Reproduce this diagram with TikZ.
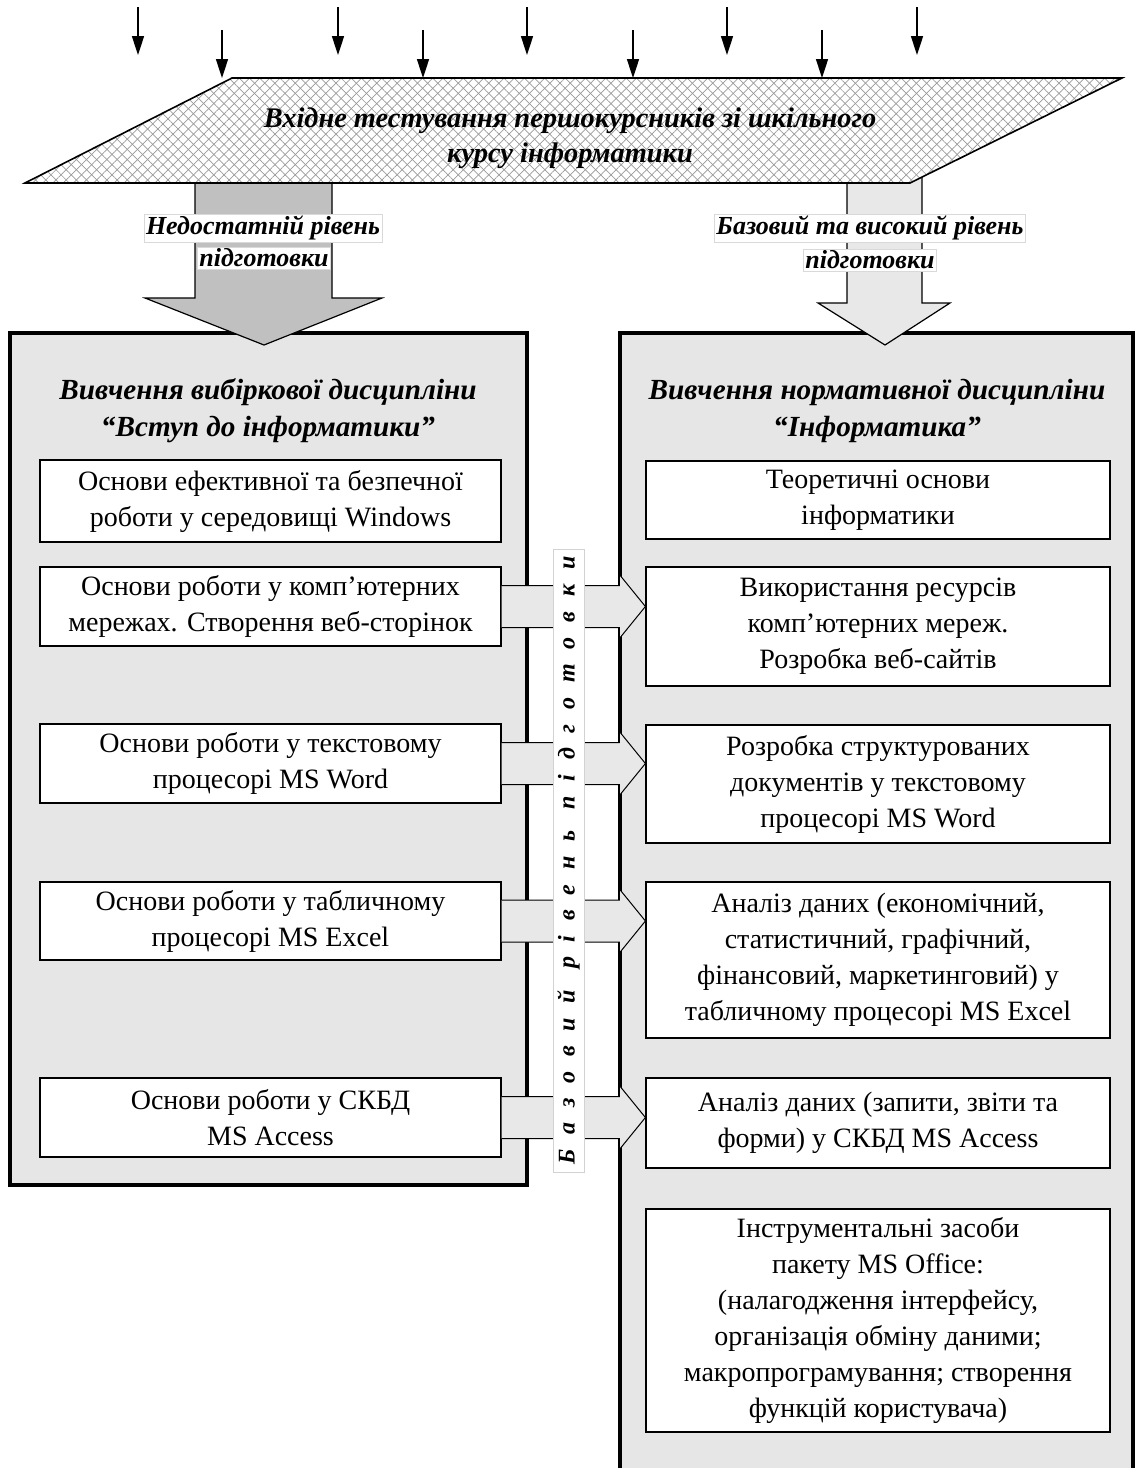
\documentclass[tikz,border=0pt]{standalone}
\usepackage{fontspec}
\setmainfont{Liberation Serif}
\usetikzlibrary{calc,arrows.meta,patterns.meta}
\definecolor{frame-gray}{HTML}{E6E6E6}
\definecolor{arrow-dark}{HTML}{C0C0C0}
\definecolor{arrow-light}{HTML}{E8E8E8}
\definecolor{hatch-gray}{HTML}{9A9A9A}

% block arrow from a left topic to the matching right topic
\newcommand{\flowarrow}[2]{%
  \draw[flow] ($(#1.east)+(0,-21)$) -- ($(#2.west |- #1.east)+(-26,-21)$)
    -- ($(#2.west |- #1.east)+(-26,-32)$) -- (#2.west |- #1.east)
    -- ($(#2.west |- #1.east)+(-26,32)$) -- ($(#2.west |- #1.east)+(-26,21)$)
    -- ($(#1.east)+(0,21)$);}

\begin{document}
\begin{tikzpicture}[
  x=0.5pt, y=-0.5pt,
  every node/.style={align=center},
  frame/.style={rectangle, draw=black, line width=2pt, fill=frame-gray},
  topic/.style={rectangle, draw=black, line width=0.6pt, fill=white, inner sep=2pt, font=\fontsize{14}{18}\selectfont},
  lefttopic/.style={topic, minimum width=230.5pt},
  righttopic/.style={topic, minimum width=232pt},
  heading/.style={font=\fontsize{14.6}{18.5}\selectfont\bfseries\itshape},
  tag/.style={fill=white, draw=gray!30, line width=0.3pt, inner sep=1pt, font=\fontsize{13}{15}\selectfont\bfseries\itshape},
  fatarrow/.style={draw=black, line width=0.6pt},
  flow/.style={draw=black, line width=0.5pt, fill=arrow-light},
  feed/.style={-{Triangle[length=9.5pt,width=6pt]}, line width=0.8pt}
]
  \useasboundingbox (0,0) rectangle (1136,1468);
  \clip (0,0) rectangle (1136,1468);

  % two study tracks
  \node[frame, minimum width=258.5pt, minimum height=426pt] (leftframe) at (268.5,759) {};
  \node[frame, minimum width=256.5pt, minimum height=593.5pt] (rightframe) at (876.5,926.5) {};

  % levels coming out of the entrance test
  \draw[fatarrow, fill=arrow-dark] (195,150) -- (195,298) -- (145,298) -- (264,345)
    -- (382,298) -- (332,298) -- (332,150);
  \draw[fatarrow, fill=arrow-light] (847,150) -- (847,303) -- (818,303) -- (885,345)
    -- (950,303) -- (922,303) -- (922,150);

  % entrance test
  \path[fill=white] (25,183) -- (232,78) -- (1122,78) -- (910,183) -- cycle;
  \path[pattern={Lines[angle=45,distance=3.6pt,line width=0.35pt]}, pattern color=hatch-gray]
    (25,183) -- (232,78) -- (1122,78) -- (910,183) -- cycle;
  \path[pattern={Lines[angle=-45,distance=3.6pt,line width=0.35pt]}, pattern color=hatch-gray]
    (25,183) -- (232,78) -- (1122,78) -- (910,183) -- cycle;
  \draw[line width=0.8pt] (25,183) -- (232,78) -- (1122,78) -- (910,183) -- cycle;
  \node[font=\fontsize{14.2}{17.5}\selectfont\bfseries\itshape] (intake) at (570,138)
    {Вхідне тестування першокурсників зі шкільного\\курсу інформатики};

  \foreach \x in {138,338,527,727,917} {
    \coordinate (hs\x) at (\x,7);
    \coordinate (he\x) at (\x,55);
    \draw[feed] (hs\x) -- (he\x);
  }
  \foreach \x in {222,423,633,822} {
    \coordinate (ls\x) at (\x,30);
    \coordinate (le\x) at (\x,78);
    \draw[feed] (ls\x) -- (le\x);
  }

  \node[tag] (lowlvl) at (263,228) {Недостатній рівень};
  \node[tag] (lowlvl2) at (264,258) {підготовки};
  \node[tag] (highlvl) at (870,228) {Базовий та високий рівень};
  \node[tag] (highlvl2) at (870,260) {підготовки};

  \node[heading] (lefthead) at (268,411) {Вивчення вибіркової дисципліни\\“Вступ до інформатики”};
  \node[heading] (righthead) at (877,411) {Вивчення нормативної дисципліни\\“Інформатика”};

  % elective course
  \node[lefttopic, minimum height=41pt] (l1) at (270.5,501) {Основи ефективної та безпечної\\роботи у середовищі Windows};
  \node[lefttopic, minimum height=39.5pt] (l2) at (270.5,606.5) {Основи роботи у комп’ютерних\\мережах. Створення веб-сторінок};
  \node[lefttopic, minimum height=39.5pt] (l3) at (270.5,763.5) {Основи роботи у текстовому\\процесорі MS Word};
  \node[lefttopic, minimum height=39pt] (l4) at (270.5,921) {Основи роботи у табличному\\процесорі MS Excel};
  \node[lefttopic, minimum height=39.5pt] (l5) at (270.5,1117.5) {Основи роботи у СКБД\\MS Access};

  % normative course
  \node[righttopic, minimum height=39pt] (r1) at (878,500) {Теоретичні основи\\інформатики};
  \node[righttopic, minimum height=59.5pt] (r2) at (878,626.5) {Використання ресурсів\\комп’ютерних мереж.\\Розробка веб-сайтів};
  \node[righttopic, minimum height=59pt] (r3) at (878,784) {Розробка структурованих\\документів у текстовому\\процесорі MS Word};
  \node[righttopic, minimum height=78pt] (r4) at (878,960) {Аналіз даних (економічний,\\статистичний, графічний,\\фінансовий, маркетинговий) у\\табличному процесорі MS Excel};
  \node[righttopic, minimum height=45pt] (r5) at (878,1123) {Аналіз даних (запити, звіти та\\форми) у СКБД MS Access};
  \node[righttopic, minimum height=111.5pt] (r6) at (878,1320.5) {Інструментальні засоби\\пакету MS Office:\\(налагодження інтерфейсу,\\організація обміну даними;\\макропрограмування; створення\\функцій користувача)};

  \flowarrow{l2}{r2}
  \flowarrow{l3}{r3}
  \flowarrow{l4}{r4}
  \flowarrow{l5}{r5}

  \node[rectangle, fill=white, draw=gray!35, line width=0.4pt, rotate=90,
    minimum width=311.5pt, minimum height=15.5pt, inner sep=0pt,
    font=\fontsize{12}{14}\selectfont\bfseries\itshape] (basestrip) at (568.5,860.5)
    {\addfontfeature{LetterSpace=62}Базовий рівень підготовки};
\end{tikzpicture}
\end{document}
